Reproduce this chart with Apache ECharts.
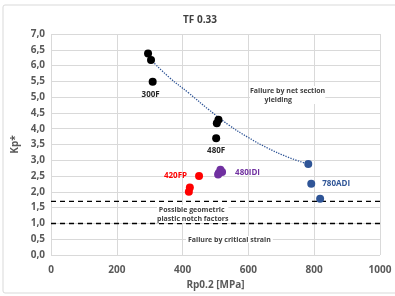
<!DOCTYPE html>
<html><head><meta charset="utf-8">
<script src="https://cdn.jsdelivr.net/npm/echarts@6/dist/echarts.min.js"></script>
<style>html,body{margin:0;padding:0;background:#fff}#c{width:395px;height:296px}</style>
</head><body><div id="c"></div>
<script>
const xTicks = [0,200,400,600,800,1000];
const s300F = [[295,6.38],[304,6.18],[309,5.49]];
const s480F = [[509,4.28],[504,4.17],[502,3.70]];
const s420FP = [[450,2.50],[422,2.14],[419,2.00]];
const s480IDI = [[515,2.70],[510,2.60],[520,2.63],[508,2.55]];
const s780ADI = [[782,2.88],[791,2.26],[818,1.78]];
const trend = [[304,6.18],[360,5.62],[420,5.12],[480,4.60],[540,4.12],[600,3.72],[660,3.38],[720,3.10],[782,2.88]];
const limitUpper = [[0,1.7],[1000,1.7]];
const limitLower = [[0,1.0],[1000,1.0]];

const chart = echarts.init(document.getElementById('c'));
function lab(data, idx, text, pos, color, off){
  return data.map((d,i)=> i===idx ? {value:d, label:{show:true, formatter:text, position:pos, color:color, fontWeight:'bold', fontSize:8, fontFamily:'Open Sans', offset:off||[0,0]}} : {value:d});
}
const dotSeries = (name, data, color) => ({type:'scatter', name, data, symbolSize:8, itemStyle:{color, opacity:1}, z:5});
chart.setOption({
  animation:false,
  title:{text:'TF 0.33', left:195, top:10, textAlign:'center', textStyle:{fontSize:10, fontWeight:'bold', color:'#404040', fontFamily:'Open Sans'}},
  grid:{left:51, right:15, top:34, bottom:41},
  xAxis:{type:'value', min:0, max:1000, interval:200,
    name:'Rp0.2 [MPa]', nameLocation:'middle', nameGap:22,
    nameTextStyle:{fontSize:10, fontWeight:'bold', color:'#595959', fontFamily:'Open Sans'},
    axisLine:{show:false}, axisTick:{show:false},
    axisLabel:{fontSize:10, fontWeight:'bold', color:'#595959', fontFamily:'Open Sans', margin:10, formatter:v=>String(v)},
    splitLine:{lineStyle:{color:'#d9d9d9'}}},
  yAxis:{type:'value', min:0, max:7, interval:0.5,
    name:'Kp*', nameLocation:'middle', nameGap:28, nameRotate:90,
    nameTextStyle:{fontSize:10, fontWeight:'bold', color:'#595959', fontFamily:'Open Sans'},
    axisLine:{show:false}, axisTick:{show:false},
    axisLabel:{fontSize:10, fontWeight:'bold', color:'#595959', fontFamily:'Open Sans', margin:6, formatter:v=>v.toFixed(1).replace('.',',')},
    splitLine:{lineStyle:{color:'#d9d9d9'}}},
  graphic:[
    {type:'rect', shape:{x:3,y:5,width:400,height:288,r:2}, style:{fill:'none', stroke:'#d9d9d9', lineWidth:1}, z:-1},
    {type:'text', left:250, top:86, z:10, style:{text:'Failure by net section\n        yielding', fontSize:7, fontWeight:'bold', fill:'#404040', fontFamily:'Open Sans', backgroundColor:'#fff', lineHeight:9}},
    {type:'text', left:157, top:205, z:10, style:{text:' Possible geometric\nplastic notch factors', fontSize:7, fontWeight:'bold', fill:'#404040', fontFamily:'Open Sans', backgroundColor:'#fff', lineHeight:9}},
    {type:'text', left:186, top:236, z:10, style:{text:'Failure by critical strain', fontSize:7, fontWeight:'bold', fill:'#404040', fontFamily:'Open Sans', backgroundColor:'#fff', padding:[0,2]}}
  ],
  series:[
    {type:'line', data:trend, smooth:true, symbol:'none', lineStyle:{color:'#2f5597', width:1.3, type:'dotted'}, z:3},
    {type:'line', data:limitUpper, symbol:'none', lineStyle:{color:'#000', width:1.4, type:[5,4]}, z:3},
    {type:'line', data:limitLower, symbol:'none', lineStyle:{color:'#000', width:1.4, type:[5,4]}, z:3},
    dotSeries('300F', lab(s300F,2,'300F','bottom','#262626',[-2,0]), '#000'),
    dotSeries('480F', lab(s480F,2,'480F','bottom','#262626',[0,0]), '#000'),
    dotSeries('420FP', lab(s420FP,0,'420FP','left','#ff0000',[-3,0]), '#ff0000'),
    dotSeries('480IDI', lab(s480IDI,2,'480IDI','right','#7030a0',[4,1]), '#7030a0'),
    dotSeries('780ADI', lab(s780ADI,1,'780ADI','right','#2f5597',[2,0]), '#2f5597')
  ]
});
</script></body></html>
